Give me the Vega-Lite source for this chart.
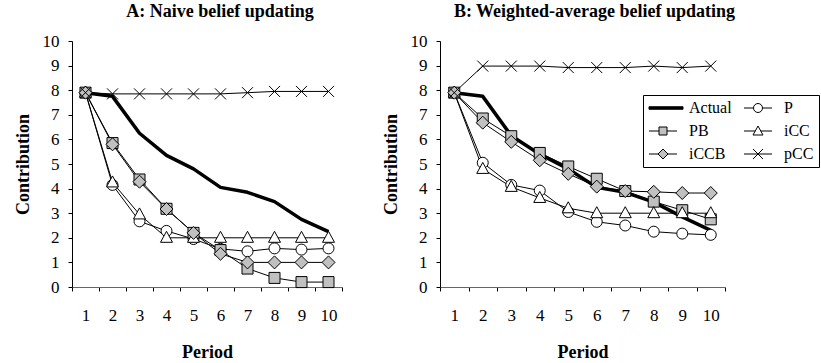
{
  "$schema": "https://vega.github.io/schema/vega-lite/v6.json",
  "background": "white",
  "padding": {"left": 14, "top": 3, "right": 0, "bottom": 0},
  "config": {
    "view": {"stroke": null},
    "font": "Liberation Serif",
    "axis": {"labelFont": "Liberation Serif", "labelFontSize": 17, "labelColor": "black", "titleFont": "Liberation Serif", "titleFontSize": 18, "titleFontWeight": "bold", "titleColor": "black", "domainColor": "black", "tickColor": "black", "grid": false},
    "title": {"font": "Liberation Serif", "fontSize": 18, "fontWeight": "bold", "color": "black", "anchor": "middle"}
  },
  "data": {"values": [
    {"panel":"A","series":"Actual","period":1,"value":7.9},{"panel":"A","series":"Actual","period":2,"value":7.75},{"panel":"A","series":"Actual","period":3,"value":6.25},{"panel":"A","series":"Actual","period":4,"value":5.35},{"panel":"A","series":"Actual","period":5,"value":4.8},{"panel":"A","series":"Actual","period":6,"value":4.05},{"panel":"A","series":"Actual","period":7,"value":3.85},{"panel":"A","series":"Actual","period":8,"value":3.47},{"panel":"A","series":"Actual","period":9,"value":2.75},{"panel":"A","series":"Actual","period":10,"value":2.25},
    {"panel":"A","series":"P","period":1,"value":7.9},{"panel":"A","series":"P","period":2,"value":4.15},{"panel":"A","series":"P","period":3,"value":2.67},{"panel":"A","series":"P","period":4,"value":2.28},{"panel":"A","series":"P","period":5,"value":1.95},{"panel":"A","series":"P","period":6,"value":1.55},{"panel":"A","series":"P","period":7,"value":1.45},{"panel":"A","series":"P","period":8,"value":1.57},{"panel":"A","series":"P","period":9,"value":1.52},{"panel":"A","series":"P","period":10,"value":1.57},
    {"panel":"A","series":"PB","period":1,"value":7.9},{"panel":"A","series":"PB","period":2,"value":5.85},{"panel":"A","series":"PB","period":3,"value":4.37},{"panel":"A","series":"PB","period":4,"value":3.18},{"panel":"A","series":"PB","period":5,"value":2.2},{"panel":"A","series":"PB","period":6,"value":1.5},{"panel":"A","series":"PB","period":7,"value":0.75},{"panel":"A","series":"PB","period":8,"value":0.37},{"panel":"A","series":"PB","period":9,"value":0.2},{"panel":"A","series":"PB","period":10,"value":0.2},
    {"panel":"A","series":"iCC","period":1,"value":7.9},{"panel":"A","series":"iCC","period":2,"value":4.25},{"panel":"A","series":"iCC","period":3,"value":2.95},{"panel":"A","series":"iCC","period":4,"value":2.0},{"panel":"A","series":"iCC","period":5,"value":2.0},{"panel":"A","series":"iCC","period":6,"value":2.0},{"panel":"A","series":"iCC","period":7,"value":2.0},{"panel":"A","series":"iCC","period":8,"value":2.0},{"panel":"A","series":"iCC","period":9,"value":2.0},{"panel":"A","series":"iCC","period":10,"value":2.0},
    {"panel":"A","series":"iCCB","period":1,"value":7.9},{"panel":"A","series":"iCCB","period":2,"value":5.8},{"panel":"A","series":"iCCB","period":3,"value":4.28},{"panel":"A","series":"iCCB","period":4,"value":3.17},{"panel":"A","series":"iCCB","period":5,"value":2.2},{"panel":"A","series":"iCCB","period":6,"value":1.35},{"panel":"A","series":"iCCB","period":7,"value":1.0},{"panel":"A","series":"iCCB","period":8,"value":1.0},{"panel":"A","series":"iCCB","period":9,"value":1.0},{"panel":"A","series":"iCCB","period":10,"value":1.0},
    {"panel":"A","series":"pCC","period":1,"value":7.9},{"panel":"A","series":"pCC","period":2,"value":7.85},{"panel":"A","series":"pCC","period":3,"value":7.85},{"panel":"A","series":"pCC","period":4,"value":7.85},{"panel":"A","series":"pCC","period":5,"value":7.85},{"panel":"A","series":"pCC","period":6,"value":7.85},{"panel":"A","series":"pCC","period":7,"value":7.9},{"panel":"A","series":"pCC","period":8,"value":7.95},{"panel":"A","series":"pCC","period":9,"value":7.95},{"panel":"A","series":"pCC","period":10,"value":7.95},
    {"panel":"B","series":"Actual","period":1,"value":7.9},{"panel":"B","series":"Actual","period":2,"value":7.75},{"panel":"B","series":"Actual","period":3,"value":6.15},{"panel":"B","series":"Actual","period":4,"value":5.4},{"panel":"B","series":"Actual","period":5,"value":4.8},{"panel":"B","series":"Actual","period":6,"value":4.05},{"panel":"B","series":"Actual","period":7,"value":3.85},{"panel":"B","series":"Actual","period":8,"value":3.45},{"panel":"B","series":"Actual","period":9,"value":2.85},{"panel":"B","series":"Actual","period":10,"value":2.3},
    {"panel":"B","series":"P","period":1,"value":7.9},{"panel":"B","series":"P","period":2,"value":5.05},{"panel":"B","series":"P","period":3,"value":4.15},{"panel":"B","series":"P","period":4,"value":3.92},{"panel":"B","series":"P","period":5,"value":3.05},{"panel":"B","series":"P","period":6,"value":2.65},{"panel":"B","series":"P","period":7,"value":2.5},{"panel":"B","series":"P","period":8,"value":2.25},{"panel":"B","series":"P","period":9,"value":2.17},{"panel":"B","series":"P","period":10,"value":2.12},
    {"panel":"B","series":"PB","period":1,"value":7.9},{"panel":"B","series":"PB","period":2,"value":6.85},{"panel":"B","series":"PB","period":3,"value":6.13},{"panel":"B","series":"PB","period":4,"value":5.45},{"panel":"B","series":"PB","period":5,"value":4.9},{"panel":"B","series":"PB","period":6,"value":4.4},{"panel":"B","series":"PB","period":7,"value":3.9},{"panel":"B","series":"PB","period":8,"value":3.47},{"panel":"B","series":"PB","period":9,"value":3.12},{"panel":"B","series":"PB","period":10,"value":2.75},
    {"panel":"B","series":"iCC","period":1,"value":7.9},{"panel":"B","series":"iCC","period":2,"value":4.8},{"panel":"B","series":"iCC","period":3,"value":4.07},{"panel":"B","series":"iCC","period":4,"value":3.62},{"panel":"B","series":"iCC","period":5,"value":3.2},{"panel":"B","series":"iCC","period":6,"value":3.0},{"panel":"B","series":"iCC","period":7,"value":3.0},{"panel":"B","series":"iCC","period":8,"value":3.0},{"panel":"B","series":"iCC","period":9,"value":3.0},{"panel":"B","series":"iCC","period":10,"value":3.0},
    {"panel":"B","series":"iCCB","period":1,"value":7.9},{"panel":"B","series":"iCCB","period":2,"value":6.68},{"panel":"B","series":"iCCB","period":3,"value":5.9},{"panel":"B","series":"iCCB","period":4,"value":5.15},{"panel":"B","series":"iCCB","period":5,"value":4.6},{"panel":"B","series":"iCCB","period":6,"value":4.08},{"panel":"B","series":"iCCB","period":7,"value":3.9},{"panel":"B","series":"iCCB","period":8,"value":3.87},{"panel":"B","series":"iCCB","period":9,"value":3.82},{"panel":"B","series":"iCCB","period":10,"value":3.82},
    {"panel":"B","series":"pCC","period":1,"value":7.9},{"panel":"B","series":"pCC","period":2,"value":8.98},{"panel":"B","series":"pCC","period":3,"value":8.98},{"panel":"B","series":"pCC","period":4,"value":8.98},{"panel":"B","series":"pCC","period":5,"value":8.92},{"panel":"B","series":"pCC","period":6,"value":8.92},{"panel":"B","series":"pCC","period":7,"value":8.92},{"panel":"B","series":"pCC","period":8,"value":8.98},{"panel":"B","series":"pCC","period":9,"value":8.92},{"panel":"B","series":"pCC","period":10,"value":8.98}
  ]},
  "spacing": 26,
  "resolve": {"scale": {"shape": "independent", "fill": "independent"}},
  "hconcat": [
    {
      "width": 270, "height": 246,
      "title": {"text": "A: Naive belief updating", "dx": 13, "offset": 11},
      "transform": [{"filter": "datum.panel === 'A'"}],
      "encoding": {
        "x": {"field": "period", "type": "quantitative", "scale": {"domain": [0.5, 10.5], "nice": false, "zero": false},
          "axis": {"title": "Period", "values": [0.5,1.5,2.5,3.5,4.5,5.5,6.5,7.5,8.5,9.5,10.5], "labelExpr": "datum.value < 10 ? format(datum.value + 0.5, 'd') : ''", "labelOffset": 13.5, "tickSize": 4, "labelPadding": 16, "titlePadding": 20, "labelFlush": false, "labelOverlap": false, "domainColor": "#666"}},
        "y": {"field": "value", "type": "quantitative", "scale": {"domain": [0, 10], "nice": false},
          "axis": {"title": "Contribution", "values": [0,1,2,3,4,5,6,7,8,9,10], "tickSize": 4, "labelPadding": 9, "titlePadding": 10}}
      },
      "layer": [
        {"mark": {"type": "line", "strokeJoin": "round"},
         "encoding": {
           "detail": {"field": "series", "type": "nominal"},
           "strokeWidth": {"condition": {"test": "datum.series === 'Actual'", "value": 3.5}, "value": 1},
           "color": {"value": "black"}
         }},
        {"mark": {"type": "point", "filled": true, "size": 4, "stroke": "black", "strokeWidth": 1, "opacity": 1},
         "encoding": {
           "shape": {"condition": [
             {"test": "datum.series === 'Actual'", "value": "M0,0"},
             {"test": "datum.series === 'P'", "value": "M-5.5,0A5.5,5.5 0 1,0 5.5,0A5.5,5.5 0 1,0 -5.5,0"},
             {"test": "datum.series === 'PB'", "value": "M-5.5,-5.5H5.5V5.5H-5.5Z"},
             {"test": "datum.series === 'iCC'", "value": "M0,-6.5L6,4.5H-6Z"},
             {"test": "datum.series === 'iCCB'", "value": "M-6.5,0L0,-6.5L6.5,0L0,6.5Z"}
           ], "value": "M-5.5,-5.5L5.5,5.5M-5.5,5.5L5.5,-5.5"},
           "fill": {"condition": {"test": "datum.series === 'PB' || datum.series === 'iCCB'", "value": "#c0c0c0"}, "value": "white"}
         }}
      ]
    },
    {
      "width": 285, "height": 246,
      "title": {"text": "B: Weighted-average belief updating", "dx": 12, "offset": 11},
      "transform": [{"filter": "datum.panel === 'B'"}],
      "encoding": {
        "x": {"field": "period", "type": "quantitative", "scale": {"domain": [0.5, 10.5], "nice": false, "zero": false},
          "axis": {"title": "Period", "values": [0.5,1.5,2.5,3.5,4.5,5.5,6.5,7.5,8.5,9.5,10.5], "labelExpr": "datum.value < 10 ? format(datum.value + 0.5, 'd') : ''", "labelOffset": 14.25, "tickSize": 4, "labelPadding": 16, "titlePadding": 20, "labelFlush": false, "labelOverlap": false, "domainColor": "#666"}},
        "y": {"field": "value", "type": "quantitative", "scale": {"domain": [0, 10], "nice": false},
          "axis": {"title": "Contribution", "values": [0,1,2,3,4,5,6,7,8,9,10], "tickSize": 4, "labelPadding": 9, "titlePadding": 10}}
      },
      "layer": [
        {"mark": {"type": "line", "strokeJoin": "round"},
         "encoding": {
           "detail": {"field": "series", "type": "nominal"},
           "strokeWidth": {"condition": {"test": "datum.series === 'Actual'", "value": 3.5}, "value": 1},
           "color": {"value": "black"}
         }},
        {"mark": {"type": "point", "filled": true, "size": 4, "stroke": "black", "strokeWidth": 1, "opacity": 1},
         "encoding": {
           "shape": {"condition": [
             {"test": "datum.series === 'Actual'", "value": "M0,0"},
             {"test": "datum.series === 'P'", "value": "M-5.5,0A5.5,5.5 0 1,0 5.5,0A5.5,5.5 0 1,0 -5.5,0"},
             {"test": "datum.series === 'PB'", "value": "M-5.5,-5.5H5.5V5.5H-5.5Z"},
             {"test": "datum.series === 'iCC'", "value": "M0,-6.5L6,4.5H-6Z"},
             {"test": "datum.series === 'iCCB'", "value": "M-6.5,0L0,-6.5L6.5,0L0,6.5Z"}
           ], "value": "M-5.5,-5.5L5.5,5.5M-5.5,5.5L5.5,-5.5"},
           "fill": {"condition": {"test": "datum.series === 'PB' || datum.series === 'iCCB'", "value": "#c0c0c0"}, "value": "white"}
         }},
        {"mark": {"type": "point", "filled": true, "size": 4, "stroke": "black", "strokeWidth": 1, "opacity": 0},
         "encoding": {
           "shape": {"field": "series", "type": "nominal",
             "scale": {"domain": ["Actual","P","PB","iCC","iCCB","pCC"], "range": [
               "M-17,-1.25H17V1.25H-17Z",
               "M-17,0H-7.5M1.5,0H11M-7.5,0A4.5,4.5 0 1,0 1.5,0A4.5,4.5 0 1,0 -7.5,0",
               "M-17,0H-7M1,0H11M-7,-4H1V4H-7Z",
               "M-17,0H-5.8M-0.2,0H11M-3,-5L2,4H-8Z",
               "M-17,0H-8M2,0H11M-8,0L-3,-5L2,0L-3,5Z",
               "M-17,0H11M-8,-5L2,5M-8,5L2,-5"]},
             "legend": {
               "title": null, "orient": "none", "legendX": 203, "legendY": 54, "columns": 2, "direction": "horizontal",
               "symbolSize": 4, "symbolOpacity": 1, "symbolStrokeWidth": 1, "symbolOffset": 10, "labelOffset": 15,
               "labelFont": "Liberation Serif", "labelFontSize": 16, "labelColor": "black", "labelLimit": 200,
               "padding": 5, "strokeColor": "black", "fillColor": "white", "cornerRadius": 0,
               "rowPadding": 7, "columnPadding": 10}},
           "fill": {"field": "series", "type": "nominal",
             "scale": {"domain": ["Actual","P","PB","iCC","iCCB","pCC"], "range": ["black","white","#c0c0c0","white","#c0c0c0","white"]},
             "legend": {
               "title": null, "orient": "none", "legendX": 203, "legendY": 54, "columns": 2, "direction": "horizontal",
               "symbolSize": 4, "symbolOpacity": 1, "symbolStrokeWidth": 1, "symbolOffset": 10, "labelOffset": 15,
               "labelFont": "Liberation Serif", "labelFontSize": 16, "labelColor": "black", "labelLimit": 200,
               "padding": 5, "strokeColor": "black", "fillColor": "white", "cornerRadius": 0,
               "rowPadding": 7, "columnPadding": 10}}
         }}
      ]
    }
  ]
}
